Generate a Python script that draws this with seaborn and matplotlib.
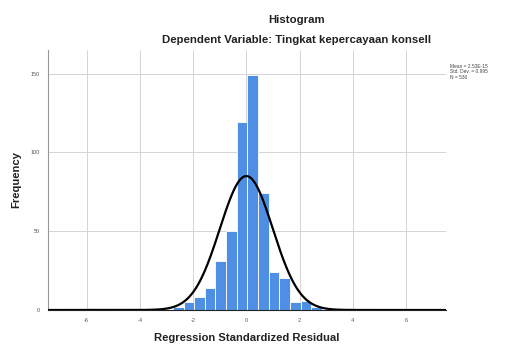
import numpy              as np
import pandas             as pd
import seaborn            as sns
import matplotlib.pyplot  as plt


# residual histogram values (left bin edge -> frequency)
bin_width  = 0.4
bin_lefts  = [-5.96, -3.56, -2.76, -2.36, -1.96, -1.56, -1.16, -0.76,
              -0.36,  0.04,  0.44,  0.84,  1.24,  1.64,  2.04,  2.44]
counts     = [1, 1, 2, 5, 8, 14, 31, 50, 119, 149, 74, 24, 20, 5, 6, 2]

x_ticks    = [-6, -4, -2, 0, 2, 4, 6]
y_ticks    = [0, 50, 100, 150]

mean_resid = 0.0
sd_resid   = 0.995
n_total    = 530
stats_text = 'Mean = 2.53E-15\nStd. Dev. = 0.995\nN = 530'

bar_color  = '#4f8fe3'


sns.set_style('white')
plt.rcParams['font.family'] = ['Liberation Sans', 'DejaVu Sans']

fig = plt.figure(figsize=(5.09, 3.47), dpi=100)
ax  = fig.add_axes([0.0943, 0.1066, 0.7819, 0.7494])

df = pd.DataFrame({
    'resid' : np.array(bin_lefts) + bin_width / 2,
    'freq'  : counts
})
# bins as plain list (seaborn compares bins to "auto" when weights are given)
edges = np.arange(bin_lefts[0], bin_lefts[-1] + bin_width * 1.5, bin_width).tolist()
sns.histplot(
    data      = df,
    x         = 'resid',
    weights   = 'freq',
    bins      = edges,
    color     = bar_color,
    alpha     = 1,
    edgecolor = 'white',
    linewidth = 0.6,
    ax        = ax
)

# normal curve
xs = np.linspace(-7.45, 7.5, 400)
ys = n_total * bin_width * np.exp(-0.5 * ((xs - mean_resid) / sd_resid) ** 2) / (sd_resid * np.sqrt(2 * np.pi))
ax.plot(xs, ys, color='black', linewidth=1.6, zorder=3)

ax.set_xlim(-7.45, 7.5)
ax.set_ylim(0, 165)
ax.set_xticks(x_ticks)
ax.set_yticks(y_ticks)
ax.set_xticklabels([str(t) for t in x_ticks], fontsize=4, color='#555555')
ax.set_yticklabels([str(t) for t in y_ticks], fontsize=4, color='#555555')
ax.tick_params(length=0, pad=6)
ax.grid(True, color='#d4d4d4', linewidth=0.7)
ax.set_axisbelow(True)

for side in ['top', 'right']:
    ax.spines[side].set_visible(False)
ax.spines['left'].set_color('#999999')
ax.spines['left'].set_linewidth(0.8)
ax.spines['bottom'].set_color('#222222')
ax.spines['bottom'].set_linewidth(0.8)

ax.set_xlabel('Regression Standardized Residual', fontsize=8.1, fontweight='bold', color='#222222', labelpad=7)
ax.set_ylabel('Frequency', fontsize=8.1, fontweight='bold', color='#222222', labelpad=6.5)

fig.text(297 / 509, 1 - 20 / 347, 'Histogram', ha='center', va='center',
         fontsize=8.2, fontweight='bold', color='#222222')
fig.text(297 / 509, 1 - 40 / 347, 'Dependent Variable: Tingkat kepercayaan konsell', ha='center', va='center',
         fontsize=8.2, fontweight='bold', color='#222222')
fig.text(450 / 509, 1 - 64 / 347, stats_text, ha='left', va='top',
         fontsize=3.5, color='#444444', linespacing=1.1)

plt.savefig('out.png', dpi=100)
